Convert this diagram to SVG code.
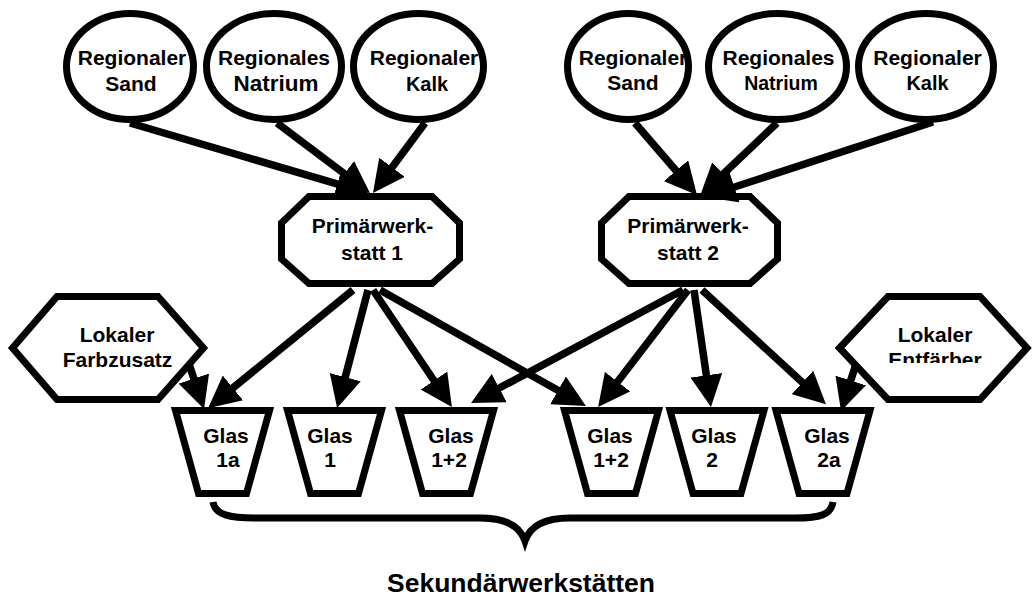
<svg xmlns="http://www.w3.org/2000/svg" width="1036" height="597" viewBox="0 0 1036 597">
<defs>
<style>
.n{fill:#fff;stroke:#000;stroke-width:7;stroke-linejoin:miter}
.t{font-family:"Liberation Sans",Arial,sans-serif;font-weight:bold;font-size:21px;text-anchor:middle;fill:#000}
.c{stroke:#000;stroke-width:7.5;fill:none;marker-end:url(#ah)}
</style>
<marker id="ah" markerUnits="userSpaceOnUse" markerWidth="32" markerHeight="32" viewBox="0 0 32 32" refX="12" refY="16" orient="auto"><path d="M0,0 L32,16 L0,32 z" fill="#000"/></marker>
<clipPath id="clipE"><rect x="830" y="280" width="206" height="83"/></clipPath>
</defs>
<rect width="1036" height="597" fill="#fff"/>

<g id="sand1"><ellipse class="n" cx="130" cy="66.5" rx="63.5" ry="53"/><text class="t" x="132" y="65">Regionaler</text><text class="t" x="131" y="91">Sand</text></g>
<g id="natrium1"><ellipse class="n" cx="274" cy="66.5" rx="67.5" ry="53"/><text class="t" x="274" y="65">Regionales</text><text class="t" x="276" y="91" style="font-size:22.5px">Natrium</text></g>
<g id="kalk1"><ellipse class="n" cx="418.5" cy="66.5" rx="65" ry="53"/><text class="t" x="424" y="65">Regionaler</text><text class="t" x="427" y="91" style="font-size:20px">Kalk</text></g>

<g id="sand2"><ellipse class="n" cx="628" cy="66.5" rx="60.5" ry="53"/><text class="t" x="633" y="65">Regionaler</text><text class="t" x="633" y="90">Sand</text></g>
<g id="natrium2"><ellipse class="n" cx="777.5" cy="66.5" rx="69" ry="53"/><text class="t" x="778.5" y="65">Regionales</text><text class="t" x="781" y="90" style="font-size:19.5px">Natrium</text></g>
<g id="kalk2"><ellipse class="n" cx="926" cy="66.5" rx="67.5" ry="53"/><text class="t" x="927.5" y="65">Regionaler</text><text class="t" x="927.5" y="90" style="font-size:20px">Kalk</text></g>

<g id="prim1"><polygon class="n" points="309,196.5 432,196.5 459.5,223 459.5,259 432,283.5 309,283.5 281.5,259 281.5,223"/><text class="t" x="372.5" y="233">Primärwerk-</text><text class="t" x="372" y="260">statt 1</text></g>
<g id="prim2"><polygon class="n" points="629,196.5 750,196.5 777.5,223 777.5,259 750,283.5 629,283.5 601.5,259 601.5,223"/><text class="t" x="688" y="233">Primärwerk-</text><text class="t" x="688" y="260">statt 2</text></g>

<g id="farbzusatz"><polygon class="n" points="12.5,348 57,296.5 158,296.5 203.5,348 158,399.5 57,399.5"/><text class="t" x="117" y="342">Lokaler</text><text class="t" x="117.5" y="367">Farbzusatz</text></g>
<g id="entfaerber"><polygon class="n" points="839.5,348 888,296.5 980,296.5 1027,348 980,399.5 888,399.5"/><text class="t" x="935" y="342">Lokaler</text><text class="t" x="935" y="367" clip-path="url(#clipE)">Entfärber</text></g>

<g id="glas1a"><polygon class="n" points="175.5,410.5 269.5,410.5 246.5,493.5 198.5,493.5"/><text class="t" x="226" y="443">Glas</text><text class="t" x="228" y="467">1a</text></g>
<g id="glas1"><polygon class="n" points="287.5,410.5 381.5,410.5 358.5,493.5 310.5,493.5"/><text class="t" x="330" y="443">Glas</text><text class="t" x="330" y="467">1</text></g>
<g id="glas12a"><polygon class="n" points="399.5,410.5 493.5,410.5 470.5,493.5 422.5,493.5"/><text class="t" x="451" y="443">Glas</text><text class="t" x="449" y="467">1+2</text></g>
<g id="glas12b"><polygon class="n" points="564.5,410.5 658.5,410.5 635.5,493.5 587.5,493.5"/><text class="t" x="610" y="443">Glas</text><text class="t" x="611" y="467">1+2</text></g>
<g id="glas2"><polygon class="n" points="670,410.5 764,410.5 741,493.5 693,493.5"/><text class="t" x="714" y="443">Glas</text><text class="t" x="712" y="467">2</text></g>
<g id="glas2a"><polygon class="n" points="776,410.5 870,410.5 847,493.5 799,493.5"/><text class="t" x="827" y="443">Glas</text><text class="t" x="829" y="467">2a</text></g>

<g id="connectors">
<line class="c" x1="130" y1="123" x2="348.8" y2="187.4"/>
<line class="c" x1="277" y1="123" x2="354" y2="181"/>
<line class="c" x1="425" y1="123" x2="384.9" y2="176.9"/>
<line class="c" x1="635" y1="123" x2="683.9" y2="179.8"/>
<line class="c" x1="777" y1="123" x2="714.5" y2="182.2"/>
<line class="c" x1="933" y1="122" x2="723" y2="190.8"/>
<line class="c" x1="353" y1="290" x2="223.6" y2="395.5"/>
<line class="c" x1="368" y1="290" x2="342.2" y2="388.7"/>
<line class="c" x1="373" y1="290" x2="440.7" y2="390.5"/>
<line class="c" x1="380" y1="290" x2="568.5" y2="396.3"/>
<line class="c" x1="683" y1="290" x2="488.7" y2="393.7"/>
<line class="c" x1="688" y1="290" x2="610.3" y2="391.2"/>
<line class="c" x1="694" y1="290" x2="708.1" y2="387.2"/>
<line class="c" x1="702" y1="290" x2="811.2" y2="390.6"/>
<line class="c" x1="189" y1="364" x2="197.7" y2="390"/>
<line class="c" x1="856" y1="364" x2="847.1" y2="391.9"/>
</g>

<g id="brace"><path d="M213,502 C215,515 230,518 255,518 L480,518 C505,518 520,526 525,541 C530,526 545,518 570,518 L795,518 C820,518 831,515 833,502" fill="none" stroke="#000" stroke-width="7"/></g>
<text class="t" x="521" y="592" style="font-size:25px" textLength="268" lengthAdjust="spacingAndGlyphs">Sekundärwerkstätten</text>
</svg>
